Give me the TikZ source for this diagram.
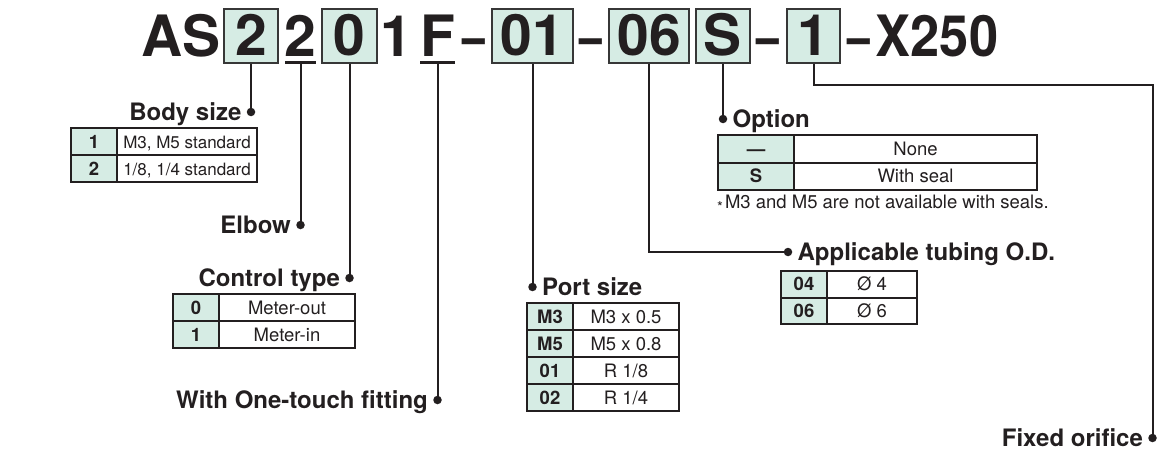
\documentclass[tikz,border=0pt]{standalone}
\usepackage{fontspec}
\setmainfont{TeX Gyre Heros}
\usepackage{tikz}
\usetikzlibrary{positioning,calc}
\definecolor{CodeGreen}{RGB}{214,236,228}
\definecolor{InkBlack}{RGB}{35,31,32}
\definecolor{BoxGray}{RGB}{55,55,55}

\tikzset{
  codebox/.style={draw=BoxGray,line width=1.4pt,fill=CodeGreen,inner sep=0pt,
    minimum height=54pt,text height=40pt,text depth=0pt,
    font=\fontsize{57}{57}\selectfont\bfseries,text=InkBlack},
  codechar/.style={anchor=base,inner sep=0pt,
    font=\fontsize{57}{57}\selectfont\bfseries,text=InkBlack},
  leader/.style={draw=InkBlack,line width=2pt},
  under/.style={draw=InkBlack,line width=2.2pt},
  blob/.style={circle,fill=InkBlack,inner sep=0pt,minimum size=8.5pt},
  title/.style={inner sep=0pt,text height=17pt,text depth=0pt,
    font=\fontsize{24}{24}\selectfont\bfseries,text=InkBlack},
  cellkey/.style={inner sep=0pt,text height=13pt,text depth=0pt,
    font=\fontsize{18.5}{18.5}\selectfont\bfseries,text=InkBlack},
  cellval/.style={inner sep=0pt,text height=13pt,text depth=0pt,
    font=\fontsize{18.5}{18.5}\selectfont,text=InkBlack},
  tablerule/.style={draw=InkBlack,line width=2pt},
}

% #1 name, #2 left x, #3 split x, #4 right x, #5 top y, #6 row height, #7 key/value rows
\newcommand{\spectable}[7]{%
  \foreach \key/\val [count=\i] in {#7}{
    \fill[CodeGreen] (#2,{#5+(\i-1)*#6}) rectangle (#3,{#5+\i*#6});
    \node[cellkey] (#1-k\i) at ({(#2+#3)/2},{#5+(\i-0.5)*#6}) {\key};
    \node[cellval] (#1-v\i) at ({(#3+#4)/2},{#5+(\i-0.5)*#6}) {\val};
    \draw[tablerule] (#2,{#5+(\i-1)*#6}) rectangle (#4,{#5+\i*#6});
    \draw[tablerule] (#3,{#5+(\i-1)*#6}) -- (#3,{#5+\i*#6});
  }%
}

\begin{document}
\begin{tikzpicture}[x=1pt,y=-1pt]
  \useasboundingbox (0,0) rectangle (1157,452);

  % model code
  \node[codechar] (as) at (181,57) {AS};
  \node[codebox,minimum width=54pt] (size) at (251,36) {2};
  \node[codechar] (elbow) at (300.5,57) {2};
  \node[codebox,minimum width=55pt] (ctrl) at (349.5,36) {0};
  \node[codechar] (one) at (396,57) {1};
  \node[codechar] (fit) at (438,57) {F};
  \node[codechar] (da) at (473.5,57) {\scalebox{0.72}[1]{–}};
  \node[codebox,minimum width=81pt] (port) at (532.5,36) {01};
  \node[codechar] (db) at (590.5,57) {\scalebox{0.72}[1]{–}};
  \node[codebox,minimum width=80pt] (tube) at (649,36) {06};
  \node[codebox,minimum width=54pt] (opt) at (723,36) {S};
  \node[codechar] (dc) at (768,57) {\scalebox{0.72}[1]{–}};
  \node[codebox,minimum width=53pt] (orif) at (813.5,36) {1};
  \node[codechar] (dd) at (858.5,57) {\scalebox{0.72}[1]{–}};
  \node[codechar] (xnum) at (937,57) {\scalebox{0.92}[1]{X250}};

  \draw[under] (285,62.5) -- (316,62.5);
  \draw[under] (420,62.5) -- (455,62.5);

  % tips of the leaders
  \node[blob] (p1) at (251,112) {};
  \node[blob] (p2) at (300.5,225) {};
  \node[blob] (p3) at (349.5,278) {};
  \node[blob] (p4) at (437.5,400) {};
  \node[blob] (p5) at (532.5,287) {};
  \node[blob] (p6) at (723,119) {};
  \node[blob] (p7) at (788,252) {};
  \node[blob] (p8) at (1152.5,438) {};

  \draw[leader] (size.south) -- (p1.center);
  \draw[leader] (300.5,62.5) -- (p2.center);
  \draw[leader] (ctrl.south) -- (p3.center);
  \draw[leader] (437.5,62.5) -- (p4.center);
  \draw[leader] (port.south) -- (p5.center);
  \draw[leader] (opt.south) -- (p6.center);
  \draw[leader] (tube.south) |- (p7.center);
  \draw[leader] (orif.south) -- ++(0,21) -| (p8.center);

  % titles
  \node[title,left=5pt of p1] (t1) {Body size};
  \node[title,left=5pt of p2] (t2) {Elbow};
  \node[title,left=5pt of p3] (t3) {Control type};
  \node[title,left=5pt of p4] (t4) {With One-touch fitting};
  \node[title,right=5pt of p5] (t5) {Port size};
  \node[title,right=5pt of p6] (t6) {Option};
  \node[title,right=5pt of p7] (t7) {Applicable tubing O.D.};
  \node[title,left=5pt of p8] (t8) {Fixed orifice};

  % tables
  \begin{scope}[cellval/.append style={font=\fontsize{17}{17}\selectfont}]
    \spectable{body}{71}{117}{257}{128}{27}{1/{M3, M5 standard},2/{1/8, 1/4 standard}}
  \end{scope}
  \spectable{ctrl}{173}{219}{355}{294}{27}{0/Meter-out,1/Meter-in}
  \spectable{port}{527}{573}{679}{303}{27}{M3/M3 x 0.5,M5/M5 x 0.8,01/{R 1/8},02/{R 1/4}}
  \spectable{opt}{718}{794}{1037}{135}{27.5}{—/None,S/With seal}
  \spectable{tube}{781}{827}{917}{271}{26.5}{04/Ø 4,06/Ø 6}

  \node[anchor=base west,inner sep=0pt,text=InkBlack,
    font=\fontsize{18.5}{18.5}\selectfont] (note) at (717,208)
    {\raisebox{-4pt}{\fontsize{15}{15}\selectfont *}\hspace{2pt}M3 and M5 are not available with seals.};
\end{tikzpicture}
\end{document}
